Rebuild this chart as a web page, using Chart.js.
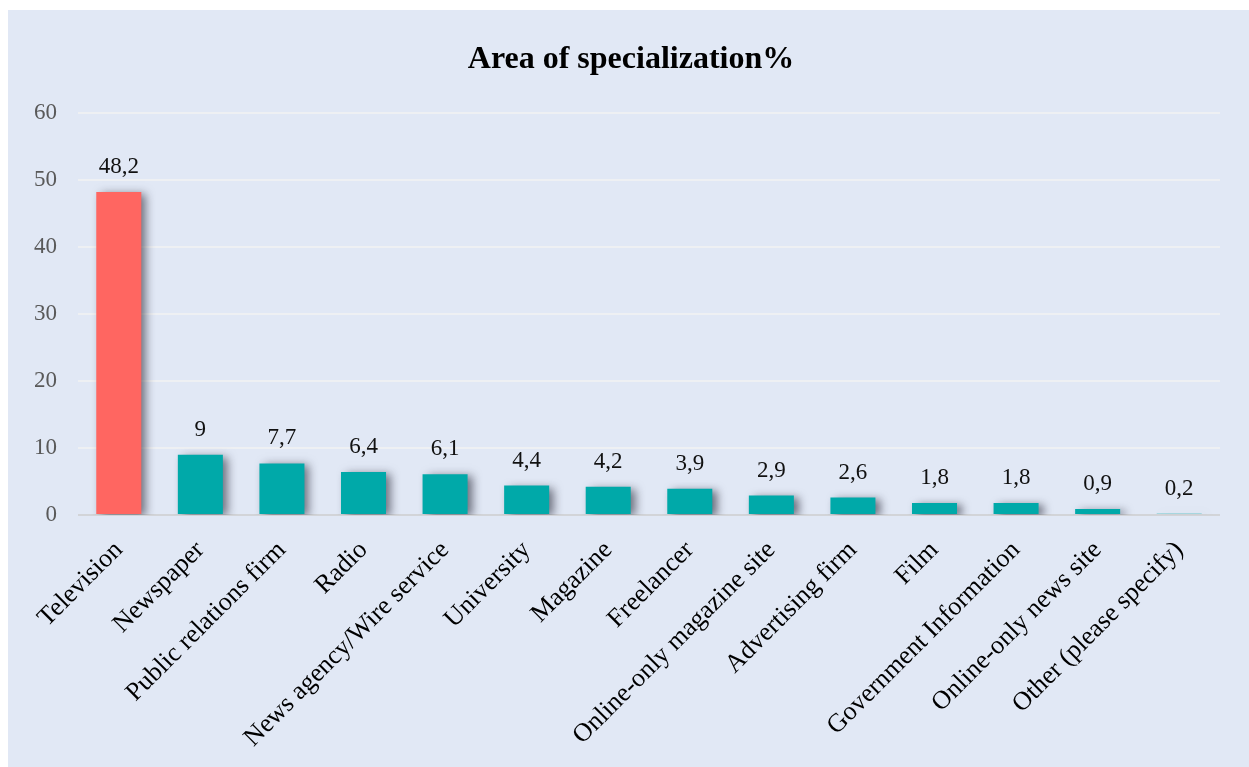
<!DOCTYPE html>
<html>
<head>
<meta charset="utf-8">
<script src="https://cdn.jsdelivr.net/npm/chart.js@4/dist/chart.umd.min.js"></script>
<style>
  html, body { margin: 0; padding: 0; background: #ffffff; width: 1249px; height: 767px; overflow: hidden; }
  #panel { position: absolute; left: 8px; top: 10px; width: 1241px; height: 757px; background: #e1e8f5; }
  canvas { display: block; }
</style>
</head>
<body>
<div id="panel"><canvas id="c" width="1241" height="757"></canvas></div>
<script>
const categories = ["Television", "Newspaper", "Public relations firm", "Radio", "News agency/Wire service", "University", "Magazine", "Freelancer", "Online-only magazine site", "Advertising firm", "Film", "Government Information", "Online-only news site", "Other (please specify)"];
const values = [48.2, 9, 7.7, 6.4, 6.1, 4.4, 4.2, 3.9, 2.9, 2.6, 1.8, 1.8, 0.9, 0.2];
const yTicks = [0, 10, 20, 30, 40, 50, 60];
const titleText = "Area of specialization%";

const SERIF = "'Liberation Serif', 'Times New Roman', serif";
const barColors = values.map((v, i) => i === 0 ? '#ff6661' : '#00a9a9');

const shadowPlugin = {
  id: 'barShadow',
  beforeDatasetDraw(chart) {
    const ctx = chart.ctx;
    ctx.save();
    ctx.shadowColor = 'rgba(30,30,45,0.6)';
    ctx.shadowBlur = 9;
    ctx.shadowOffsetX = 5;
    ctx.shadowOffsetY = 2;
  },
  afterDatasetDraw(chart) {
    chart.ctx.restore();
  }
};

const labelPlugin = {
  id: 'valueLabels',
  afterDatasetsDraw(chart) {
    const ctx = chart.ctx;
    const meta = chart.getDatasetMeta(0);
    const ys = chart.scales.y;
    ctx.save();
    ctx.font = "23px " + SERIF;
    ctx.fillStyle = '#111111';
    ctx.textAlign = 'center';
    ctx.textBaseline = 'alphabetic';
    meta.data.forEach((bar, i) => {
      const v = values[i];
      const y = ys.getPixelForValue(v) - 19;
      ctx.fillText(String(v).replace('.', ','), bar.x, y);
    });
    ctx.restore();
  }
};

new Chart(document.getElementById('c'), {
  type: 'bar',
  data: {
    labels: categories,
    datasets: [{
      data: values,
      backgroundColor: barColors,
      borderWidth: 0,
      barPercentage: 0.552,
      categoryPercentage: 1.0
    }]
  },
  options: {
    responsive: false,
    animation: false,
    devicePixelRatio: 1,
    layout: { padding: { left: 5, right: 0, top: 0, bottom: 0 } },
    plugins: {
      legend: { display: false },
      tooltip: { enabled: false },
      title: {
        display: true,
        text: titleText,
        color: '#000000',
        font: { family: SERIF, size: 32, weight: 'bold', lineHeight: 1.2 },
        padding: { top: 31, bottom: 33.6 }
      }
    },
    scales: {
      x: {
        grid: { display: false, drawTicks: false },
        border: { display: false },
        ticks: {
          color: '#000000',
          font: { family: SERIF, size: 26 },
          minRotation: 45,
          maxRotation: 45,
          autoSkip: false,
          padding: 20
        },
        afterFit(scale) { scale.height = 252; }
      },
      y: {
        min: 0,
        max: 60,
        afterBuildTicks(scale) { scale.ticks = yTicks.map(v => ({ value: v })); },
        grid: {
          drawTicks: false,
          color: (c) => c.tick && c.tick.value === 0 ? '#d2d4d8' : '#eef0f3',
          lineWidth: 2
        },
        border: { display: false },
        ticks: {
          color: '#595959',
          font: { family: SERIF, size: 23 },
          padding: 21
        },
        afterFit(scale) { scale.width = 65; }
      },
      yRight: {
        position: 'right',
        min: 0,
        max: 60,
        grid: { display: false, drawTicks: false },
        border: { display: false },
        ticks: { display: false },
        afterFit(scale) { scale.width = 29; }
      }
    }
  },
  plugins: [shadowPlugin, labelPlugin]
});
</script>
</body>
</html>
